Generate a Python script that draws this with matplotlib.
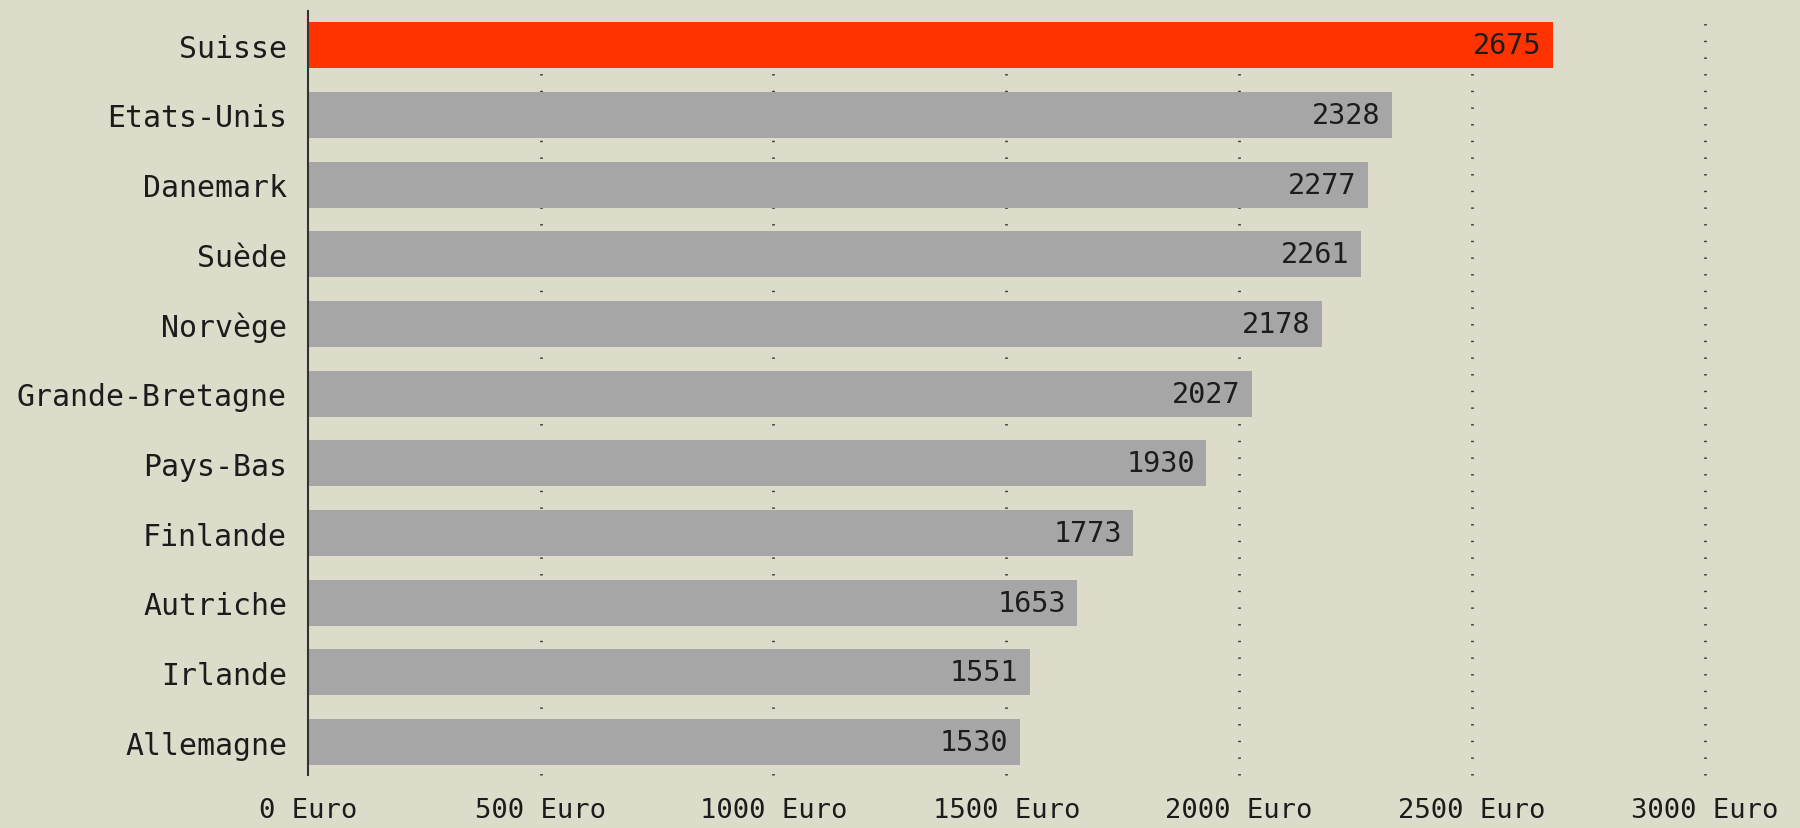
import matplotlib
matplotlib.use("Agg")
import matplotlib.pyplot as plt

countries = ["Suisse", "Etats-Unis", "Danemark", "Suède", "Norvège", "Grande-Bretagne",
             "Pays-Bas", "Finlande", "Autriche", "Irlande", "Allemagne"]
values = [2675, 2328, 2277, 2261, 2178, 2027, 1930, 1773, 1653, 1551, 1530]
xticks = [0, 500, 1000, 1500, 2000, 2500, 3000]
xticklabels = [f"{t} Euro" for t in xticks]

BG = "#dddbc9"
GREY = "#a6a6a6"
RED = "#ff3300"
TXT = "#1c1c1c"

plt.rcParams['font.family'] = ['DejaVu Sans Mono']

fig = plt.figure(figsize=(18, 8.29), dpi=100, facecolor=BG)
ax = fig.add_axes([0.171, 0.064, 0.947 - 0.171, 0.986 - 0.064])
ax.set_facecolor(BG)

ypos = list(range(len(countries)))
colors = [RED] + [GREY] * (len(countries) - 1)

for x in xticks[1:]:
    ax.axvline(x, color="#3a3a38", lw=2.0, linestyle=(0, (0.5, 5.5)), zorder=1,
               clip_on=False)

ax.barh(ypos, values, height=0.66, color=colors, zorder=2)

for y, v in zip(ypos, values):
    ax.text(v - 25, y, str(v), ha="right", va="center", fontsize=20.5, color=TXT, zorder=3)

ax.set_xlim(0, 3000)
ax.set_ylim(10.47, -0.495)
ax.set_yticks(ypos)
ax.set_yticklabels(countries, fontsize=21.5, color=TXT)
ax.set_xticks(xticks)
ax.set_xticklabels(xticklabels, fontsize=19.5, color=TXT)
ax.tick_params(axis="y", length=0, pad=15)
ax.tick_params(axis="x", length=0, pad=16)

for s in ["top", "right", "bottom"]:
    ax.spines[s].set_visible(False)
ax.spines["left"].set_color("#333333")
ax.spines["left"].set_linewidth(1.5)
ax.spines["left"].set_zorder(4)

fig.savefig("out.png", dpi=100, facecolor=BG)
